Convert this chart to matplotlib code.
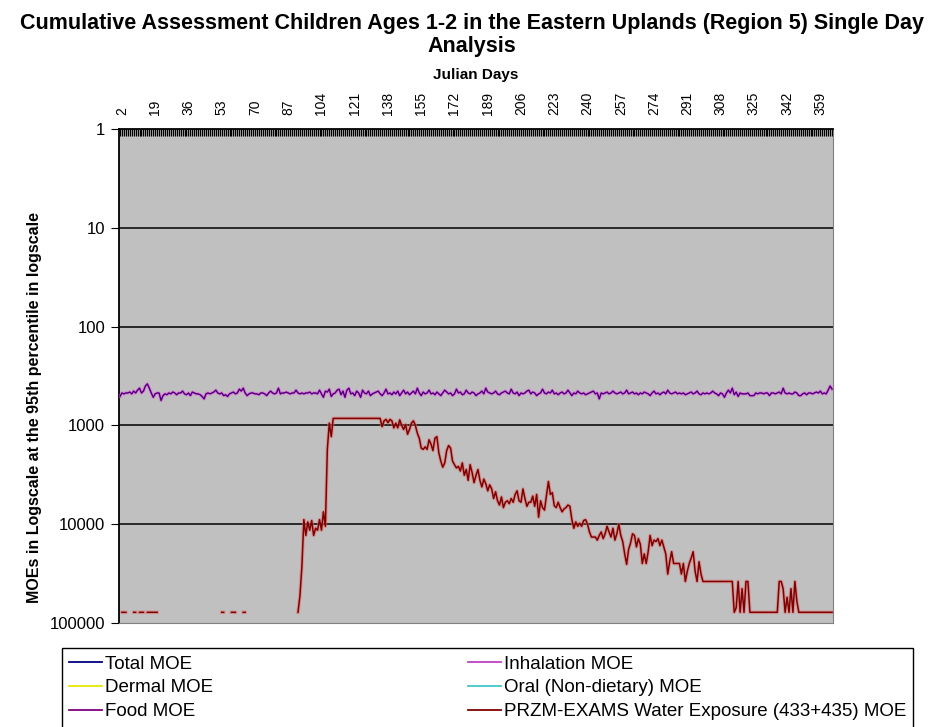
import matplotlib.pyplot as plt
import numpy as np
from matplotlib.ticker import FixedLocator, NullLocator

N = None

# julian days 1..365
days = list(range(1, 366))

# Food MOE (Total MOE sits on top of it on the chart)
food_moe = [
    510, 470, 480, 470, 470, 460, 480, 450, 470, 440, 420, 470, 450, 400, 380, 420, 470, 520, 480, 470,
    470, 560, 500, 480, 490, 470, 480, 460, 470, 490, 470, 470, 450, 480, 490, 470, 500, 460, 470, 480,
    480, 490, 510, 540, 480, 470, 480, 470, 460, 440, 470, 480, 470, 500, 490, 510, 480, 470, 460, 480,
    470, 430, 450, 420, 470, 500, 480, 470, 470, 480, 480, 490, 470, 470, 480, 500, 470, 450, 470, 480,
    470, 420, 480, 470, 470, 460, 470, 480, 470, 470, 440, 470, 480, 470, 480, 470, 470, 460, 480, 470,
    470, 480, 440, 480, 520, 450, 460, 430, 510, 480, 470, 440, 430, 490, 450, 520, 440, 420, 480, 470,
    500, 450, 470, 520, 440, 470, 480, 450, 500, 480, 470, 460, 450, 480, 500, 470, 430, 480, 470, 490,
    460, 480, 450, 500, 470, 440, 480, 460, 490, 470, 450, 480, 420, 470, 500, 460, 480, 470, 440, 480,
    470, 490, 460, 480, 500, 470, 440, 460, 480, 470, 500, 480, 430, 470, 460, 490, 480, 440, 470, 480,
    460, 470, 500, 480, 470, 450, 480, 420, 460, 470, 480, 470, 450, 480, 490, 470, 460, 450, 470, 480,
    430, 470, 480, 460, 500, 470, 480, 470, 450, 440, 480, 460, 470, 500, 480, 470, 430, 470, 480, 460,
    470, 440, 480, 470, 490, 470, 460, 480, 470, 440, 470, 500, 470, 480, 450, 470, 480, 470, 490, 480,
    470, 460, 450, 480, 470, 540, 470, 480, 470, 460, 480, 470, 450, 470, 480, 470, 460, 480, 470, 440,
    480, 470, 460, 480, 470, 490, 470, 480, 460, 470, 480, 500, 470, 450, 480, 470, 490, 470, 460, 480,
    440, 470, 480, 470, 460, 480, 470, 480, 470, 490, 480, 470, 460, 480, 470, 450, 480, 490, 470, 480,
    470, 480, 470, 450, 470, 480, 500, 470, 480, 520, 470, 440, 470, 420, 490, 460, 510, 470, 480, 480,
    480, 470, 500, 500, 500, 470, 480, 470, 470, 480, 470, 470, 500, 470, 470, 480, 470, 460, 480, 420,
    470, 480, 470, 480, 480, 460, 470, 500, 500, 480, 470, 490, 470, 470, 480, 470, 460, 470, 450, 480,
    470, 480, 440, 400, 430,
]
total_moe = food_moe        # drawn on the same path
inhalation_moe = food_moe   # pink edge around the purple path
dermal_moe = []             # not visible on the chart
oral_moe = []               # not visible on the chart

# PRZM-EXAMS water exposure MOE (None = off scale / no point)
water_moe = [
    N, 78000, 78000, 78000, N, N, N, 78000, 78000, N,
    78000, 78000, 78000, N, 78000, 78000, 78000, 78000, 78000, 78000,
    N, N, N, N, N, N, N, N, N, N,
    N, N, N, N, N, N, N, N, N, N,
    N, N, N, N, N, N, N, N, N, N,
    N, N, 78000, 78000, N, N, N, 78000, 78000, 78000,
    N, N, N, 78000, 78000, N, N, N, N, N,
    N, N, N, N, N, N, N, N, N, N,
    N, N, N, N, N, N, N, N, N, N,
    N, 78000, 53000, 26600, 9000, 13000, 9500, 11500, 9200, 13000,
    11000, 11500, 9000, 11500, 7500, 10500, 1750, 950, 1300, 850,
    850, 850, 850, 850, 850, 850, 850, 850, 850, 850,
    850, 850, 850, 850, 850, 850, 850, 850, 850, 850,
    850, 850, 850, 850, 1030, 900, 870, 940, 870, 900,
    1060, 950, 1060, 880, 1000, 1100, 980, 1230, 1100, 950,
    900, 1000, 1200, 1350, 1700, 1750, 1650, 1750, 1400, 1550,
    1800, 1350, 1300, 1900, 2300, 2650, 2400, 1800, 1600, 1700,
    2300, 2500, 2700, 2600, 2900, 2400, 3200, 2800, 3600, 2500,
    3000, 3800, 3200, 2800, 3600, 4200, 3500, 3900, 4600, 4000,
    4400, 5500, 4700, 5800, 6400, 5300, 6800, 6000, 5800, 6200,
    5500, 6000, 5000, 4600, 5800, 6000, 4400, 5500, 6600, 6000,
    6000, 5200, 6600, 5000, 8500, 5800, 6800, 7200, 5200, 3700,
    5000, 4800, 6500, 6800, 6000, 6800, 7500, 7000, 6800, 6400,
    6600, 9000, 11000, 9500, 10500, 9800, 10500, 9200, 9000, 10000,
    12000, 13500, 13500, 13500, 14500, 13000, 12000, 14000, 12500, 10500,
    12000, 13500, 11000, 14500, 12500, 10000, 13000, 15000, 20000, 25500,
    18000, 15500, 12500, 13000, 17000, 14000, 16000, 25000, 20000, 25000,
    19000, 13000, 16500, 14500, 15000, 14000, 16500, 14500, 17000, 20000,
    32000, 24000, 19000, 25000, 25000, 25000, 25000, 32000, 25000, 38000,
    30000, 25000, 22000, 19000, 30000, 38000, 24000, 32000, 38000, 38000,
    38000, 38000, 38000, 38000, 38000, 38000, 38000, 38000, 38000, 38000,
    38000, 38000, 38000, 38000, 78000, 70000, 38000, 78000, 45000, 78000,
    38000, 38000, 78000, 78000, 78000, 78000, 78000, 78000, 78000, 78000,
    78000, 78000, 78000, 78000, 78000, 78000, 78000, 38000, 38000, 45000,
    78000, 55000, 78000, 45000, 78000, 38000, 60000, 78000, 78000, 78000,
    78000, 78000, 78000, 78000, 78000, 78000, 78000, 78000, 78000, 78000,
    78000, 78000, 78000, 78000, 78000,
]

x_labels = list(range(2, 366, 17))
y_ticks = [1, 10, 100, 1000, 10000, 100000]

plt.rcParams['font.family'] = ['Liberation Sans', 'DejaVu Sans']

fig = plt.figure(figsize=(9.34, 7.27), dpi=100)
ax = fig.add_axes([0.1274, 0.1431, 0.7645, 0.6795])
ax.set_facecolor('#c0c0c0')

# halos first, then the real lines
ax.plot(days, inhalation_moe, color='#e060e0', lw=2.4, alpha=0.6, label='Inhalation MOE', zorder=3)
ax.plot(days, food_moe, color='#800080', lw=1.0, label='Food MOE', zorder=4)
ax.plot(days, total_moe, color='#000080', lw=0.6, alpha=0.5, label='Total MOE', zorder=5)
ax.plot(days[:len(dermal_moe)], dermal_moe, color='#ffff00', label='Dermal MOE')
ax.plot(days[:len(oral_moe)], oral_moe, color='#00ffff', label='Oral (Non-dietary) MOE')
water = np.array(water_moe, dtype=float)
ax.plot(days, water, color='#e07070', lw=2.6, alpha=0.55, zorder=3)
ax.plot(days, water, color='#800000', lw=1.1, label='PRZM-EXAMS Water Exposure (433+435) MOE', zorder=4)

ax.set_yscale('log')
ax.set_ylim(1, 100000)
ax.invert_yaxis()
ax.yaxis.set_major_locator(FixedLocator(y_ticks))
ax.yaxis.set_minor_locator(NullLocator())
ax.set_yticklabels([str(v) for v in y_ticks])
for v in y_ticks[1:-1]:
    ax.axhline(v, color='black', lw=1.1, zorder=2)

ax.set_xlim(0.5, 365.5)
ax.xaxis.tick_top()
ax.xaxis.set_label_position('top')
ax.set_xticks(x_labels)
ax.set_xticklabels([str(v) for v in x_labels], rotation=90, fontsize=10)
ax.xaxis.set_minor_locator(FixedLocator(days))
ax.tick_params(axis='x', which='both', direction='in', length=5, width=0.9, pad=10)
ax.tick_params(axis='y', direction='out', length=6, labelsize=12, pad=4)

for s in ['left', 'top']:
    ax.spines[s].set_color('black')
    ax.spines[s].set_linewidth(1.3)
for s in ['right', 'bottom']:
    ax.spines[s].set_color('#808080')

ax.set_xlabel('Julian Days', fontsize=11, fontweight='bold', labelpad=9)
ax.set_ylabel('MOEs in Logscale at the 95th percentile in logscale', fontsize=11.5,
              fontweight='bold')
ax.yaxis.set_label_coords(-0.108, 0.437)

fig.text(0.505, 1 - 13 / 727,
         'Cumulative Assessment Children Ages 1-2 in the Eastern Uplands (Region 5) Single Day\nAnalysis',
         ha='center', va='top', fontsize=15.5, fontweight='bold', linespacing=1.15)

# legend: column-wise order gives Total/Dermal/Food | Inhalation/Oral/PRZM
lines = {l.get_label(): l for l in ax.get_lines()}
order = ['Total MOE', 'Dermal MOE', 'Food MOE',
         'Inhalation MOE', 'Oral (Non-dietary) MOE', 'PRZM-EXAMS Water Exposure (433+435) MOE']
leg = fig.legend([lines[k] for k in order], order, ncol=2, loc='upper left',
                 bbox_to_anchor=(0.066, 0.0, 0.912, 1 - 648 / 727), mode='expand',
                 borderaxespad=0, fontsize=13.5, handlelength=1.75, handletextpad=0.15,
                 labelspacing=0.36, borderpad=0.4, columnspacing=1.0,
                 fancybox=False, framealpha=1, edgecolor='black')
leg.get_frame().set_linewidth(1.0)
for h in leg.get_lines():
    h.set_linewidth(1.3)
    h.set_alpha(1)
lc = {'Inhalation MOE': '#c040c0', 'Oral (Non-dietary) MOE': '#40c8c8', 'Dermal MOE': '#e8e800'}
for h, t in zip(leg.get_lines(), leg.get_texts()):
    if t.get_text() in lc:
        h.set_color(lc[t.get_text()])

fig.savefig('out.png', dpi=100)
